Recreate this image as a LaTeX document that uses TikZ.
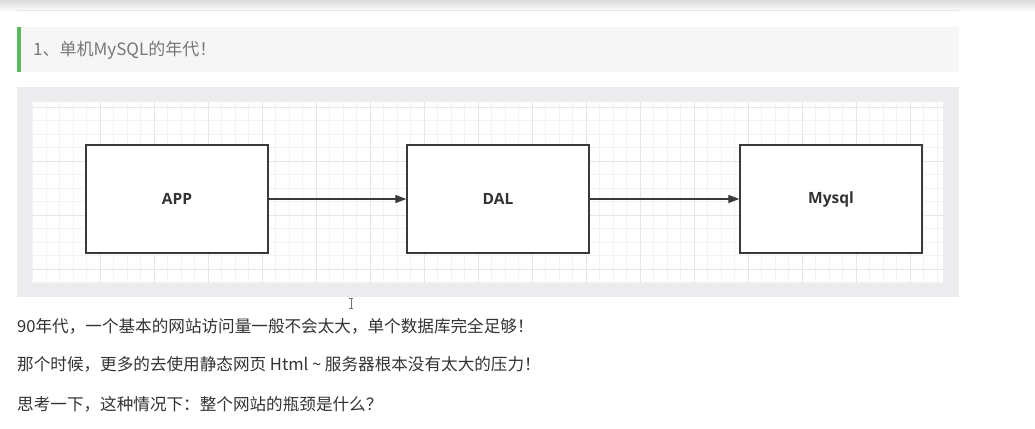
\documentclass[tikz,border=0pt]{standalone}
\usepackage{fontspec}
\setmainfont{Noto Sans CJK SC}
\newfontfamily\boxfont{Open Sans}
\usetikzlibrary{arrows.meta,calc}
\definecolor{panelgray}{HTML}{ECECEE}
\definecolor{quotebg}{HTML}{F6F6F7}
\definecolor{quotegreen}{HTML}{5CB85C}
\definecolor{minorgrid}{HTML}{F3F3F3}
\definecolor{majorgrid}{HTML}{E6E6E6}
\definecolor{boxline}{HTML}{3A3A3A}
\definecolor{bodytext}{HTML}{333333}
\definecolor{quotetext}{HTML}{777777}
\tikzset{
  x=1pt, y=-1pt,
  flowbox/.style={draw=boxline, line width=1.4pt, fill=white, minimum width=182pt, minimum height=108pt, inner sep=0pt,
    font=\boxfont\bfseries\fontsize{15.5}{18}\selectfont, text=bodytext},
  flowarrow/.style={draw=boxline, line width=1.3pt, -{Triangle[length=11pt,width=8pt]}},
  bodyline/.style={anchor=west, inner sep=0pt, text=bodytext, font=\fontsize{16.6}{19}\selectfont}
}
\begin{document}
\begin{tikzpicture}
\useasboundingbox (0,0) rectangle (1035,428);
\fill[white] (0,0) rectangle (1035,428);
% top fade and rule
\shade[top color=black!14, bottom color=white] (0,0) rectangle (1035,12);
\draw[black!9, line width=0.8pt] (17,10) -- (959,10);
% blockquote
\fill[quotebg] (17,27) rectangle (959,72);
\fill[quotegreen] (17,27) rectangle (20.5,72);
\node[anchor=west, inner sep=0pt, text=quotetext, font=\fontsize{17}{20}\selectfont] (title) at (33,50) {1、单机MySQL的年代！};
% panel
\fill[panelgray] (17,87) rectangle (959,297);
\fill[white] (32,102) rectangle (943,283);
\begin{scope}
\clip (32,102) rectangle (943,283);
\foreach \i in {0,...,67} {
  \draw[minorgrid, line width=0.7pt] ({32.5+13.5*\i},102) -- ({32.5+13.5*\i},283);
}
\foreach \j in {0,...,13} {
  \draw[minorgrid, line width=0.7pt] (32,{107+13.5*\j}) -- (943,{107+13.5*\j});
}
\foreach \i in {0,...,16} {
  \draw[majorgrid, line width=0.8pt] ({100+54*\i},102) -- ({100+54*\i},283);
}
\foreach \j in {0,...,3} {
  \draw[majorgrid, line width=0.8pt] (32,{107+54*\j}) -- (943,{107+54*\j});
}
\end{scope}
% boxes
\node[flowbox] (app) at (177,199) {APP};
\node[flowbox] (dal) at (498,199) {DAL};
\node[flowbox] (mysql) at (831,199) {Mysql};
\draw[flowarrow] (app) -- (dal);
\draw[flowarrow] (dal) -- (mysql);
% text cursor
\coordinate (cur) at (351,303);
\draw[black!55, line width=0.8pt] ($(cur)+(0,-5)$) -- ($(cur)+(0,5)$);
\draw[black!55, line width=0.8pt] ($(cur)+(-2,-5)$) -- ($(cur)+(2,-5)$) ($(cur)+(-2,5)$) -- ($(cur)+(2,5)$);
% body text
\node[bodyline] (l1) at (17,326) {90年代，一个基本的网站访问量一般不会太大，单个数据库完全足够！};
\node[bodyline] (l2) at (17,364) {那个时候，更多的去使用静态网页 Html \textasciitilde{} 服务器根本没有太大的压力！};
\node[bodyline] (l3) at (17,404) {思考一下，这种情况下：整个网站的瓶颈是什么？};
\end{tikzpicture}
\end{document}
